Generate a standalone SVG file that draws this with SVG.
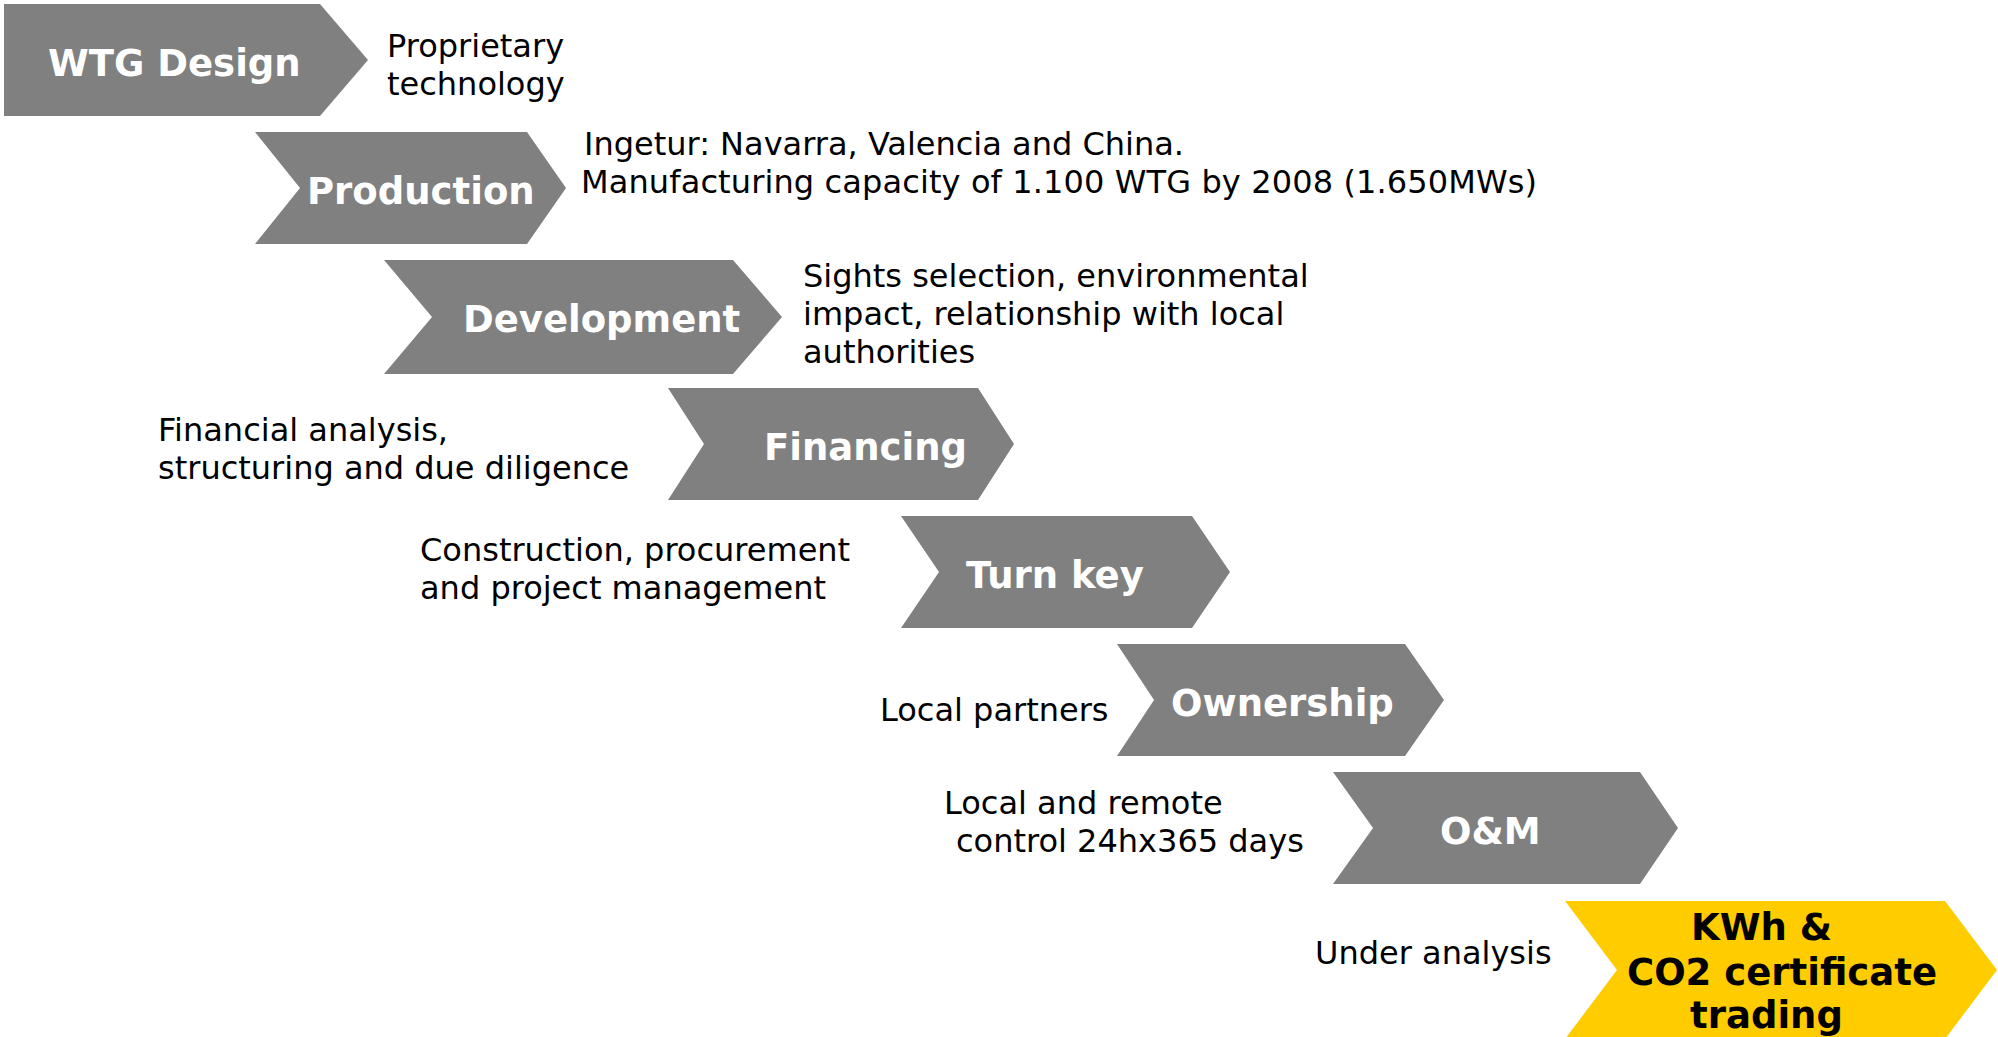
<svg xmlns="http://www.w3.org/2000/svg" width="1998" height="1037" viewBox="0 0 1998 1037">
<style>
.chev{fill:#808080}
.gold{fill:#FFCC00}
.lbl{font-family:"DejaVu Sans","Verdana",sans-serif;font-weight:bold;font-size:37px;fill:#ffffff}
.lblk{font-family:"DejaVu Sans","Verdana",sans-serif;font-weight:bold;font-size:37px;fill:#000000}
.desc{font-family:"DejaVu Sans","Verdana",sans-serif;font-size:32px;fill:#000000}
</style>
<rect width="1998" height="1037" fill="#ffffff"/>
<g id="connectors"></g>
<g id="node-wtg-design">
<polygon class="chev" points="4,4 320,4 368,60 320,116 4,116"/>
<text class="lbl" x="48" y="76">WTG Design</text>
<text class="desc" x="387" y="57">Proprietary</text>
<text class="desc" x="387" y="95">technology</text>
</g>
<g id="node-production">
<polygon class="chev" points="255,132 527,132 566,188 527,244 255,244 300,188"/>
<text class="lbl" x="307" y="204">Production</text>
<text class="desc" x="584" y="155">Ingetur: Navarra, Valencia and China.</text>
<text class="desc" x="581" y="193" textLength="956">Manufacturing capacity of 1.100 WTG by 2008 (1.650MWs)</text>
</g>
<g id="node-development">
<polygon class="chev" points="384,260 733,260 782,317 733,374 384,374 432,317"/>
<text class="lbl" x="463" y="332">Development</text>
<text class="desc" x="803" y="287">Sights selection, environmental</text>
<text class="desc" x="803" y="325">impact, relationship with local</text>
<text class="desc" x="803" y="363">authorities</text>
</g>
<g id="node-financing">
<polygon class="chev" points="668,388 978,388 1014,444 978,500 668,500 704,444"/>
<text class="lbl" x="764" y="460">Financing</text>
<text class="desc" x="158" y="441">Financial analysis,</text>
<text class="desc" x="158" y="479">structuring and due diligence</text>
</g>
<g id="node-turn-key">
<polygon class="chev" points="901,516 1192,516 1230,572 1192,628 901,628 939,572"/>
<text class="lbl" x="966" y="588">Turn key</text>
<text class="desc" x="420" y="561">Construction, procurement</text>
<text class="desc" x="420" y="599">and project management</text>
</g>
<g id="node-ownership">
<polygon class="chev" points="1117,644 1405,644 1444,700 1405,756 1117,756 1154,700"/>
<text class="lbl" x="1171" y="716">Ownership</text>
<text class="desc" x="880" y="721">Local partners</text>
</g>
<g id="node-om">
<polygon class="chev" points="1333,772 1640,772 1678,828 1640,884 1333,884 1373,828"/>
<text class="lbl" x="1440" y="844">O&amp;M</text>
<text class="desc" x="944" y="814">Local and remote</text>
<text class="desc" x="956" y="852">control 24hx365 days</text>
</g>
<g id="node-trading">
<polygon class="gold" points="1565,901 1945,901 1997,970 1945,1039 1565,1039 1617,970"/>
<text class="lblk" x="1691" y="940">KWh &amp;</text>
<text class="lblk" x="1627" y="985">CO2 certificate</text>
<text class="lblk" x="1690" y="1028">trading</text>
<text class="desc" x="1315" y="964">Under analysis</text>
</g>
</svg>
